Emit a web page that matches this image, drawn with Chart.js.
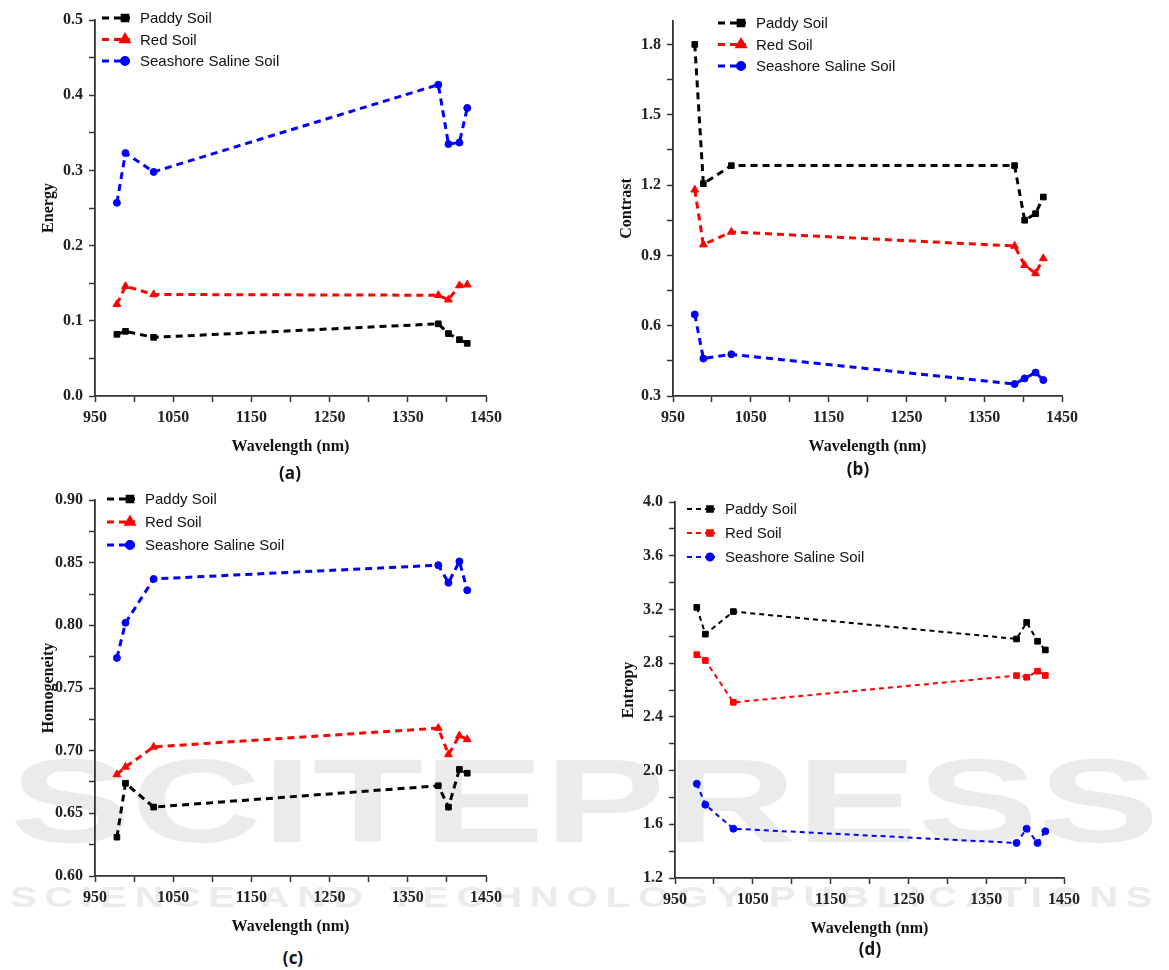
<!DOCTYPE html>
<html lang="en">
<head>
    <meta charset="UTF-8">
    <title>Soil texture features vs wavelength</title>
    <script src="https://cdn.jsdelivr.net/npm/chart.js"></script>
    <style>
        body { margin: 0; background: #fff; }
        #page { position: relative; width: 1169px; height: 970px; overflow: hidden; }
        .panel { position: absolute; }
        .caption { position: absolute; font: bold 17px "Open Sans", "Liberation Sans", sans-serif; color: #111; transform: translate(-50%, -50%); }
        .wm { position: absolute; color: #ebebeb; font-family: "Liberation Sans", sans-serif; font-weight: bold;
              white-space: nowrap; line-height: 1; transform-origin: 0 0; }
    </style>
</head>
<body>
    <div id="page">
        <!-- faint publisher watermark behind the charts -->
        <div class="wm" data-fit="1150" style="left:10px; top:742px; font-size:118px;">SCITEPRESS</div>
        <div class="wm" data-fit="1150" style="left:10px; top:883px; font-size:29px; letter-spacing:6px;">SCIENCE AND TECHNOLOGY PUBLICATIONS</div>

        <div class="panel" style="left:0; top:0;"><canvas id="chartA" width="580" height="460"></canvas></div>
        <div class="panel" style="left:585px; top:0;"><canvas id="chartB" width="584" height="460"></canvas></div>
        <div class="panel" style="left:0; top:480px;"><canvas id="chartC" width="580" height="460"></canvas></div>
        <div class="panel" style="left:585px; top:480px;"><canvas id="chartD" width="584" height="462"></canvas></div>

        <div class="caption" style="left:290px; top:472px;">(a)</div>
        <div class="caption" style="left:858px; top:468px;">(b)</div>
        <div class="caption" style="left:293px; top:957px;">(c)</div>
        <div class="caption" style="left:870px; top:948px;">(d)</div>
    </div>

    <script>
        // Wavelengths (nm) shared by every panel
        const wavelengths = [978, 989, 1025, 1389, 1402, 1416, 1426];

        // (a) Energy
        const paddyEnergy = [0.082, 0.086, 0.078, 0.096, 0.083, 0.075, 0.070];
        const redEnergy = [0.122, 0.146, 0.135, 0.134, 0.128, 0.147, 0.148];
        const salineEnergy = [0.257, 0.323, 0.298, 0.414, 0.335, 0.337, 0.383];

        // (b) Contrast
        const paddyContrast = [1.800, 1.206, 1.283, 1.283, 1.050, 1.078, 1.149];
        const redContrast = [1.180, 0.946, 1.000, 0.940, 0.858, 0.823, 0.887];
        const salineContrast = [0.648, 0.460, 0.478, 0.351, 0.375, 0.400, 0.368];

        // (c) Homogeneity
        const paddyHomog = [0.631, 0.674, 0.655, 0.672, 0.655, 0.685, 0.682];
        const redHomog = [0.681, 0.687, 0.703, 0.718, 0.697, 0.712, 0.709];
        const salineHomog = [0.774, 0.802, 0.837, 0.848, 0.834, 0.851, 0.828];

        // (d) Entropy
        const paddyEntropy = [3.215, 3.016, 3.184, 2.980, 3.104, 2.963, 2.898];
        const redEntropy = [2.863, 2.820, 2.508, 2.707, 2.695, 2.740, 2.708];
        const salineEntropy = [1.902, 1.746, 1.567, 1.461, 1.567, 1.461, 1.548];

        // Labelled tick values (minor ticks go half way between them)
        const xTicks = [950, 1050, 1150, 1250, 1350, 1450];
        const energyTicks = [0.0, 0.1, 0.2, 0.3, 0.4, 0.5];
        const contrastTicks = [0.3, 0.6, 0.9, 1.2, 1.5, 1.8];
        const homogTicks = [0.60, 0.65, 0.70, 0.75, 0.80, 0.85, 0.90];
        const entropyTicks = [1.2, 1.6, 2.0, 2.4, 2.8, 3.2, 3.6, 4.0];

        const seriesNames = ['Paddy Soil', 'Red Soil', 'Seashore Saline Soil'];
        const seriesColors = ['#000000', '#ff0000', '#0000ff'];

        const tickFont = { family: 'Liberation Serif', size: 16, weight: 'bold' };
        const axisColor = '#333';

        // stretch the watermark lines to their target width
        document.querySelectorAll('.wm').forEach(el => {
            const s = Number(el.dataset.fit) / el.offsetWidth;
            el.style.transform = 'scaleX(' + s + ')';
        });

        // majors plus one minor tick between each pair
        function withMinors(majors, extraMax) {
            const out = [];
            majors.forEach((v, i) => {
                out.push({ value: v, major: true });
                if (i < majors.length - 1) out.push({ value: (v + majors[i + 1]) / 2, major: false });
            });
            if (extraMax !== undefined) {
                const last = majors[majors.length - 1];
                const half = (majors[1] - majors[0]) / 2;
                if (last + half <= extraMax + 1e-9) out.push({ value: last + half, major: false });
            }
            return out;
        }

        // Legend drawn inside the plot: dashed line + marker + label
        const insideLegend = {
            id: 'insideLegend',
            afterDraw(chart, args, opts) {
                const ctx = chart.ctx;
                ctx.save();
                chart.data.datasets.forEach((ds, i) => {
                    const y = opts.y + i * opts.gap;
                    ctx.strokeStyle = ds.borderColor;
                    ctx.lineWidth = ds.borderWidth;
                    ctx.setLineDash(ds.borderDash);
                    ctx.beginPath();
                    ctx.moveTo(opts.x, y);
                    ctx.lineTo(opts.x + 28, y);
                    ctx.stroke();
                    ctx.setLineDash([]);
                    ctx.fillStyle = ds.borderColor;
                    Chart.helpers.drawPoint(ctx, {
                        pointStyle: ds.pointStyle, radius: ds.pointRadius, rotation: 0, borderWidth: 1
                    }, opts.x + 23, y);
                    ctx.fillStyle = '#111';
                    ctx.font = '15px "Liberation Sans", Arial, sans-serif';
                    ctx.textBaseline = 'middle';
                    ctx.fillText(ds.label, opts.x + 38, y + 1);
                });
                ctx.restore();
            }
        };

        function makeChart(id, cfg) {
            const styles = cfg.styles;
            const datasets = cfg.series.map((vals, i) => ({
                label: seriesNames[i],
                data: wavelengths.map((w, j) => ({ x: w, y: vals[j] })),
                borderColor: seriesColors[i],
                backgroundColor: seriesColors[i],
                borderWidth: cfg.lineWidth,
                borderDash: cfg.dash,
                pointStyle: styles[i],
                pointRadius: styles[i] === 'circle' ? 3.5 : (styles[i] === 'triangle' ? 4.5 : 4),
                pointBorderWidth: 1,
                fill: false,
                tension: 0
            }));
            const yMajors = cfg.yTicks;
            return new Chart(document.getElementById(id), {
                type: 'line',
                data: { datasets },
                plugins: [insideLegend],
                options: {
                    responsive: false,
                    animation: false,
                    layout: { padding: cfg.padding },
                    plugins: {
                        legend: { display: false },
                        tooltip: { enabled: false },
                        insideLegend: cfg.legend
                    },
                    scales: {
                        x: {
                            type: 'linear',
                            min: 950, max: 1450,
                            afterBuildTicks: axis => { axis.ticks = withMinors(xTicks); },
                            afterFit: axis => { axis.height = cfg.xHeight; },
                            ticks: {
                                autoSkip: false, maxRotation: 0, padding: 6,
                                font: tickFont, color: '#222',
                                callback: (v, i, ticks) => ticks[i].major ? String(v) : ''
                            },
                            grid: { drawOnChartArea: false, drawTicks: true, tickLength: 6, color: axisColor, tickWidth: 1.5 },
                            border: { display: true, color: axisColor, width: 1.8 },
                            title: {
                                display: true, text: 'Wavelength (nm)', color: '#111',
                                font: { family: 'Liberation Serif', size: 16, weight: 'bold' },
                                padding: { top: 4, bottom: 4 }
                            }
                        },
                        y: {
                            type: 'linear',
                            min: yMajors[0], max: cfg.yMax,
                            afterBuildTicks: axis => { axis.ticks = withMinors(yMajors, cfg.yMax); },
                            afterFit: axis => { axis.width = 60; },
                            ticks: {
                                autoSkip: false, padding: 6,
                                font: tickFont, color: '#222',
                                callback: (v, i, ticks) => ticks[i].major ? v.toFixed(cfg.decimals) : ''
                            },
                            grid: { drawOnChartArea: false, drawTicks: true, tickLength: 6, color: axisColor, tickWidth: 1.5 },
                            border: { display: true, color: axisColor, width: 1.8 },
                            title: {
                                display: true, text: cfg.yTitle, color: '#111',
                                font: { family: 'Liberation Serif', size: 16, weight: 'bold' },
                                padding: { top: 4, bottom: 4 }
                            }
                        }
                    }
                }
            });
        }

        makeChart('chartA', {
            series: [paddyEnergy, redEnergy, salineEnergy],
            styles: ['rect', 'triangle', 'circle'],
            yTicks: energyTicks, yMax: 0.5, decimals: 1, yTitle: 'Energy',
            lineWidth: 3, dash: [7, 5], xHeight: 64,
            padding: { left: 35, right: 94, top: 20, bottom: 0 },
            legend: { x: 102, y: 18, gap: 21.5 }
        });

        makeChart('chartB', {
            series: [paddyContrast, redContrast, salineContrast],
            styles: ['rect', 'triangle', 'circle'],
            yTicks: contrastTicks, yMax: 1.9, decimals: 1, yTitle: 'Contrast',
            lineWidth: 3, dash: [7, 5], xHeight: 64,
            padding: { left: 28, right: 107, top: 21, bottom: 0 },
            legend: { x: 133, y: 23, gap: 21.5 }
        });

        makeChart('chartC', {
            series: [paddyHomog, redHomog, salineHomog],
            styles: ['rect', 'triangle', 'circle'],
            yTicks: homogTicks, yMax: 0.90, decimals: 2, yTitle: 'Homogeneity',
            lineWidth: 3, dash: [7, 5], xHeight: 64,
            padding: { left: 35, right: 94, top: 20, bottom: 0 },
            legend: { x: 107, y: 19, gap: 23 }
        });

        makeChart('chartD', {
            series: [paddyEntropy, redEntropy, salineEntropy],
            styles: ['rect', 'rect', 'circle'],
            yTicks: entropyTicks, yMax: 4.0, decimals: 1, yTitle: 'Entropy',
            lineWidth: 2, dash: [5, 4], xHeight: 64,
            padding: { left: 30, right: 105, top: 22, bottom: 0 },
            legend: { x: 102, y: 29, gap: 24 }
        });
    </script>
</body>
</html>
